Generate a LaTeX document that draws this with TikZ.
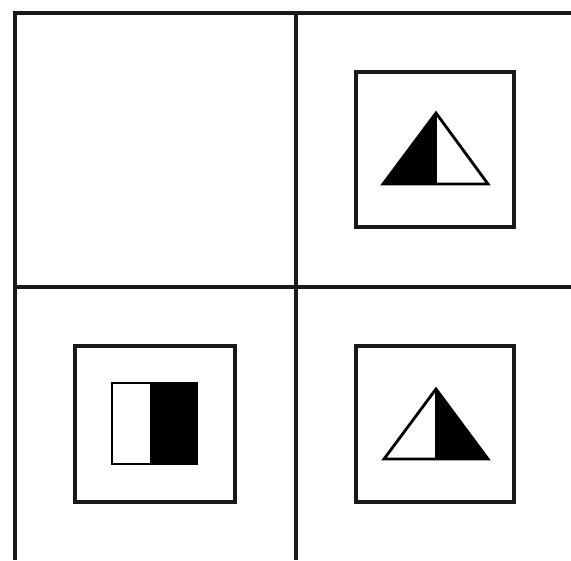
\documentclass[tikz,border=0pt]{standalone}
\begin{document}
\begin{tikzpicture}[x=0.03cm,y=-0.03cm, grid/.style={line width=2.6pt,black!90}, frame/.style={line width=2.6pt,black!90}, fig/.style={line width=2.4pt,black}]
\useasboundingbox (0,0) rectangle (571,560);
% grid
\draw[grid] (571,13) -- (15,13) -- (15,560);
\draw[grid] (296,13) -- (296,560);
\draw[grid] (15,287) -- (571,287);
% top right: triangle, left half black
\draw[frame] (356,72) rectangle (514,227);
\fill[black] (383,184) -- (436,113) -- (436,184) -- cycle;
\draw[fig,line join=miter] (383,184) -- (436,113) -- (488,184) -- cycle;
\draw[fig] (436,113) -- (436,184);
% bottom left: square, right half black
\draw[frame] (75,346) rectangle (235,502);
\fill[black] (150,383) rectangle (197,464);
\draw[fig] (112,383) rectangle (197,464);
% bottom right: triangle, right half black
\draw[frame] (356,346) rectangle (514,502);
\fill[black] (436,389) -- (488,459) -- (436,459) -- cycle;
\draw[fig,line join=miter] (384,459) -- (436,389) -- (488,459) -- cycle;
\draw[fig] (436,389) -- (436,459);
\end{tikzpicture}
\end{document}
